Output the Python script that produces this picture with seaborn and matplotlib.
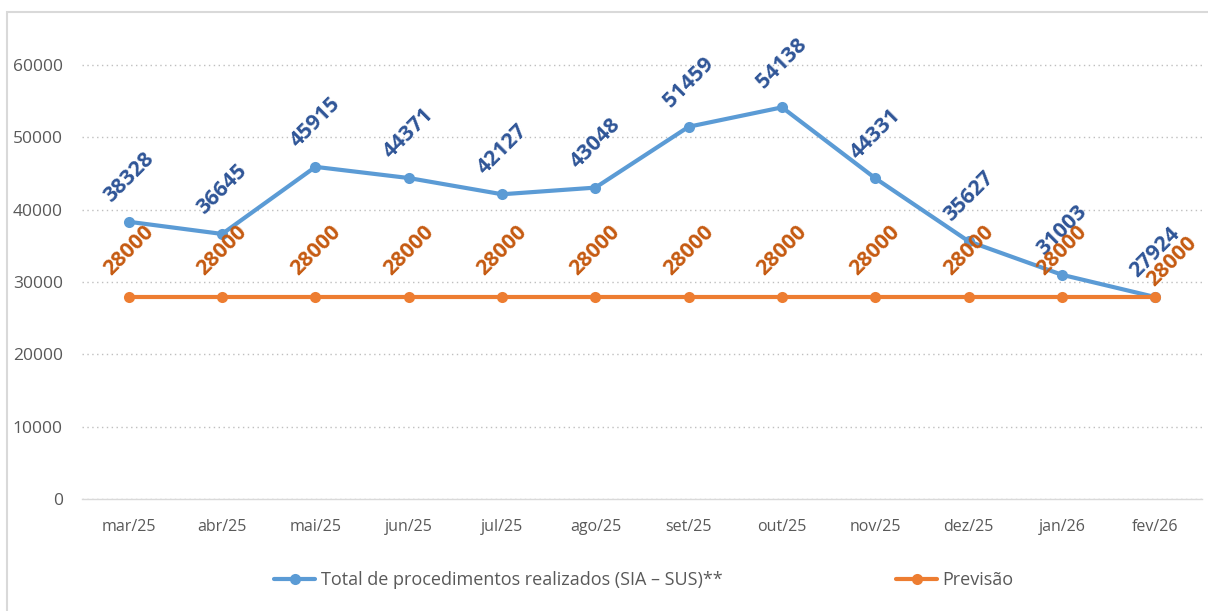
import pandas as pd
import matplotlib.pyplot as plt
import seaborn as sns
from matplotlib.patches import Rectangle
from matplotlib.lines import Line2D
from matplotlib.ticker import FixedLocator

meses = ['mar/25', 'abr/25', 'mai/25', 'jun/25', 'jul/25', 'ago/25',
         'set/25', 'out/25', 'nov/25', 'dez/25', 'jan/26', 'fev/26']
realizados = [38328, 36645, 45915, 44371, 42127, 43048,
              51459, 54138, 44331, 35627, 31003, 27924]
previsao = [28000] * 12

serie_real = 'Total de procedimentos realizados (SIA – SUS)**'
serie_prev = 'Previsão'

df = pd.DataFrame({
    'mes': meses * 2,
    'valor': realizados + previsao,
    'serie': [serie_real] * 12 + [serie_prev] * 12,
})

sns.set_style('white')
plt.rcParams['font.family'] = ['Open Sans', 'DejaVu Sans']

azul = '#5B9BD5'
laranja = '#ED7D31'

fig = plt.figure(figsize=(12.08, 6.11), dpi=100)
ax = fig.add_axes([0.068, 0.183, 0.927, 0.770])

sns.lineplot(data=df, x='mes', y='valor', hue='serie', sort=False,
             palette={serie_real: azul, serie_prev: laranja},
             marker='o', markersize=8, markeredgewidth=0, linewidth=3,
             legend=False, ax=ax)

# rótulos de dados (o último da previsão fica deslocado, como no original)
ultimo = len(meses) - 1
for i, v in enumerate(realizados):
    ax.annotate(str(v), (i, v), xytext=(0, 32), textcoords='offset points',
                ha='center', va='center', rotation=45, fontsize=15.5,
                fontweight='bold', color='#2F5597')
for i, v in enumerate(previsao):
    dx = 12 if i == ultimo else 0
    dy = 25 if i == ultimo else 33
    ax.annotate(str(v), (i, v), xytext=(dx, dy), textcoords='offset points',
                ha='center', va='center', rotation=45, fontsize=15.5,
                fontweight='bold', color='#C55A11')

ax.set_xlim(-0.5, 11.5)
ax.set_ylim(0, 65000)
ax.set_yticks(range(0, 60001, 10000))
ax.set_xlabel('')
ax.set_ylabel('')
ax.tick_params(axis='y', length=0, labelsize=12.5, labelcolor='#595959', pad=14)
ax.tick_params(axis='x', which='major', length=0, labelsize=11.5,
               labelcolor='#595959', pad=14)
ax.xaxis.set_minor_locator(FixedLocator([i - 0.5 for i in range(13)]))
ax.tick_params(axis='x', which='minor', length=6, color='#D9D9D9', width=1)

ax.yaxis.grid(True, linestyle=(0, (1, 2.5)), color='#BFBFBF', linewidth=1)
ax.set_axisbelow(True)
for lado in ['top', 'right', 'left']:
    ax.spines[lado].set_visible(False)
ax.spines['bottom'].set_color('#D9D9D9')
ax.spines['bottom'].set_linewidth(1)

# legenda
handles = [Line2D([], [], color=azul, lw=3, marker='o', markersize=8, markeredgewidth=0),
           Line2D([], [], color=laranja, lw=3, marker='o', markersize=8, markeredgewidth=0)]
fig.legend(handles, [serie_real, serie_prev], loc='center', ncol=2,
           bbox_to_anchor=(0.533, 0.05), frameon=False, fontsize=13,
           handlelength=2.3, handletextpad=0.3, columnspacing=9.6,
           labelcolor='#595959')

fig.patches.append(Rectangle((0.006, -0.02), 1.1, 1.0, transform=fig.transFigure,
                             fill=False, edgecolor='#D9D9D9', linewidth=1.5))

fig.savefig('out.png', dpi=100)
